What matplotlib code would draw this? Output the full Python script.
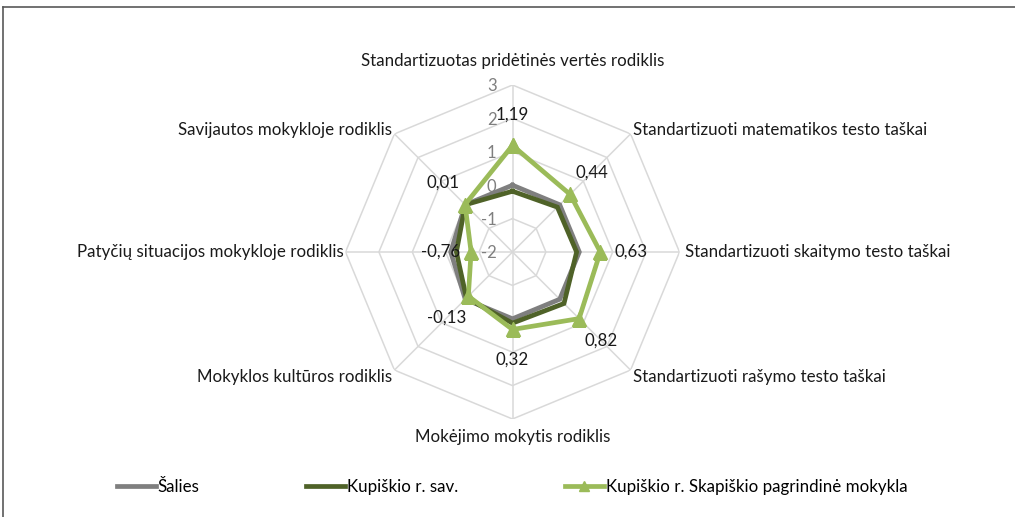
import numpy as np
import matplotlib
matplotlib.use("Agg")
import matplotlib.pyplot as plt
from matplotlib.lines import Line2D

# ── data ──
categories = [
    "Standartizuotas pridėtinės vertės rodiklis",
    "Standartizuoti matematikos testo taškai",
    "Standartizuoti skaitymo testo taškai",
    "Standartizuoti rašymo testo taškai",
    "Mokėjimo mokytis rodiklis",
    "Mokyklos kultūros rodiklis",
    "Patyčių situacijos mokykloje rodiklis",
    "Savijautos mokykloje rodiklis",
]
salies = [0.0, 0.0, 0.0, 0.0, 0.0, 0.0, -0.15, 0.0]
savivaldybe = [-0.18, -0.1, -0.08, 0.18, 0.13, -0.05, -0.32, 0.0]
mokykla = [1.19, 0.44, 0.63, 0.82, 0.32, -0.13, -0.76, 0.01]
series_names = ["Šalies", "Kupiškio r. sav.", "Kupiškio r. Skapiškio pagrindinė mokykla"]
rticks = [-2, -1, 0, 1, 2, 3]

GRAY = "#7f7f7f"; DARK = "#4f6228"; LIGHT = "#9bbb59"; GRID = "#d9d9d9"
TXT = "#1a1a1a"
FS = 12.2
plt.rcParams["font.family"] = ["Lato", "DejaVu Sans"]

W, H = 1015, 517
fig = plt.figure(figsize=(W / 100, H / 100), dpi=100)
cx, cy, rad = 512.5, 252, 167
ax = fig.add_axes([(cx - rad) / W, (H - cy - rad) / H, 2 * rad / W, 2 * rad / H],
                  projection="polar")
ax.set_theta_zero_location("N")
ax.set_theta_direction(-1)
ax.set_ylim(rticks[0], rticks[-1])
ax.grid(False)
ax.set_xticks([]); ax.set_yticks([])
ax.spines["polar"].set_visible(False)
ax.patch.set_alpha(0)

n = len(categories)
ang = np.arange(n) * 2 * np.pi / n
ang_c = np.append(ang, ang[0])


def closed(v):
    return np.append(v, v[0])


# polygon grid
for r in rticks[1:]:
    ax.plot(ang_c, [r] * (n + 1), color=GRID, lw=1.1, zorder=1)
for a in ang:
    ax.plot([a, a], [rticks[0], rticks[-1]], color=GRID, lw=1.1, zorder=1)

# radial tick labels
for r in rticks:
    ax.annotate(str(r), xy=(0, r), xytext=(-11.5, -1), textcoords="offset points",
                ha="right", va="center", color=GRAY, fontsize=12, annotation_clip=False)

# series
ax.plot(ang_c, closed(salies), color=GRAY, lw=3.4, zorder=3, solid_joinstyle="miter")
ax.plot(ang_c, closed(savivaldybe), color=DARK, lw=3.4, zorder=4, solid_joinstyle="miter")
ax.plot(ang_c, closed(mokykla), color=LIGHT, lw=3.4, zorder=5, marker="^", markersize=10,
        solid_joinstyle="miter")

# data labels for the school
for a, v in zip(ang, mokykla):
    off = 22
    ax.annotate(f"{v:.2f}".replace(".", ","), xy=(a, v),
                xytext=(off * np.sin(a), off * np.cos(a)), textcoords="offset points",
                ha="center", va="center", fontsize=FS, color=TXT,
                annotation_clip=False, zorder=6)

# category labels
label_pos = [
    ((0, 17), "center", "center"),
    ((1.5, 3), "left", "center"),
    ((4, 0), "left", "center"),
    ((1.5, -5), "left", "center"),
    ((0, -13), "center", "center"),
    ((-1.5, -5), "right", "center"),
    ((-1, 0), "right", "center"),
    ((-1.5, 3), "right", "center"),
]
for a, lab, (off, ha, va) in zip(ang, categories, label_pos):
    ax.annotate(lab, xy=(a, rticks[-1]), xytext=off, textcoords="offset points",
                ha=ha, va=va, fontsize=FS, color=TXT, annotation_clip=False)

# legend
handles = [
    Line2D([], [], color=GRAY, lw=3.4),
    Line2D([], [], color=DARK, lw=3.4),
    Line2D([], [], color=LIGHT, lw=3.4, marker="^", markersize=7),
]
fig.legend(handles, series_names, loc="center left", bbox_to_anchor=(117 / W, 1 - 487 / H),
           ncol=3, frameon=False, fontsize=FS, handlelength=2.3, handletextpad=0.1,
           columnspacing=6.3, borderpad=0, borderaxespad=0)

# outer frame (top and left edges)
fig.add_artist(Line2D([3 / W, 1], [1 - 6.5 / H, 1 - 6.5 / H], color="#595959", lw=1.2))
fig.add_artist(Line2D([3 / W, 3 / W], [0, 1 - 6.5 / H], color="#595959", lw=1.2))

fig.savefig("out.png", dpi=100)
